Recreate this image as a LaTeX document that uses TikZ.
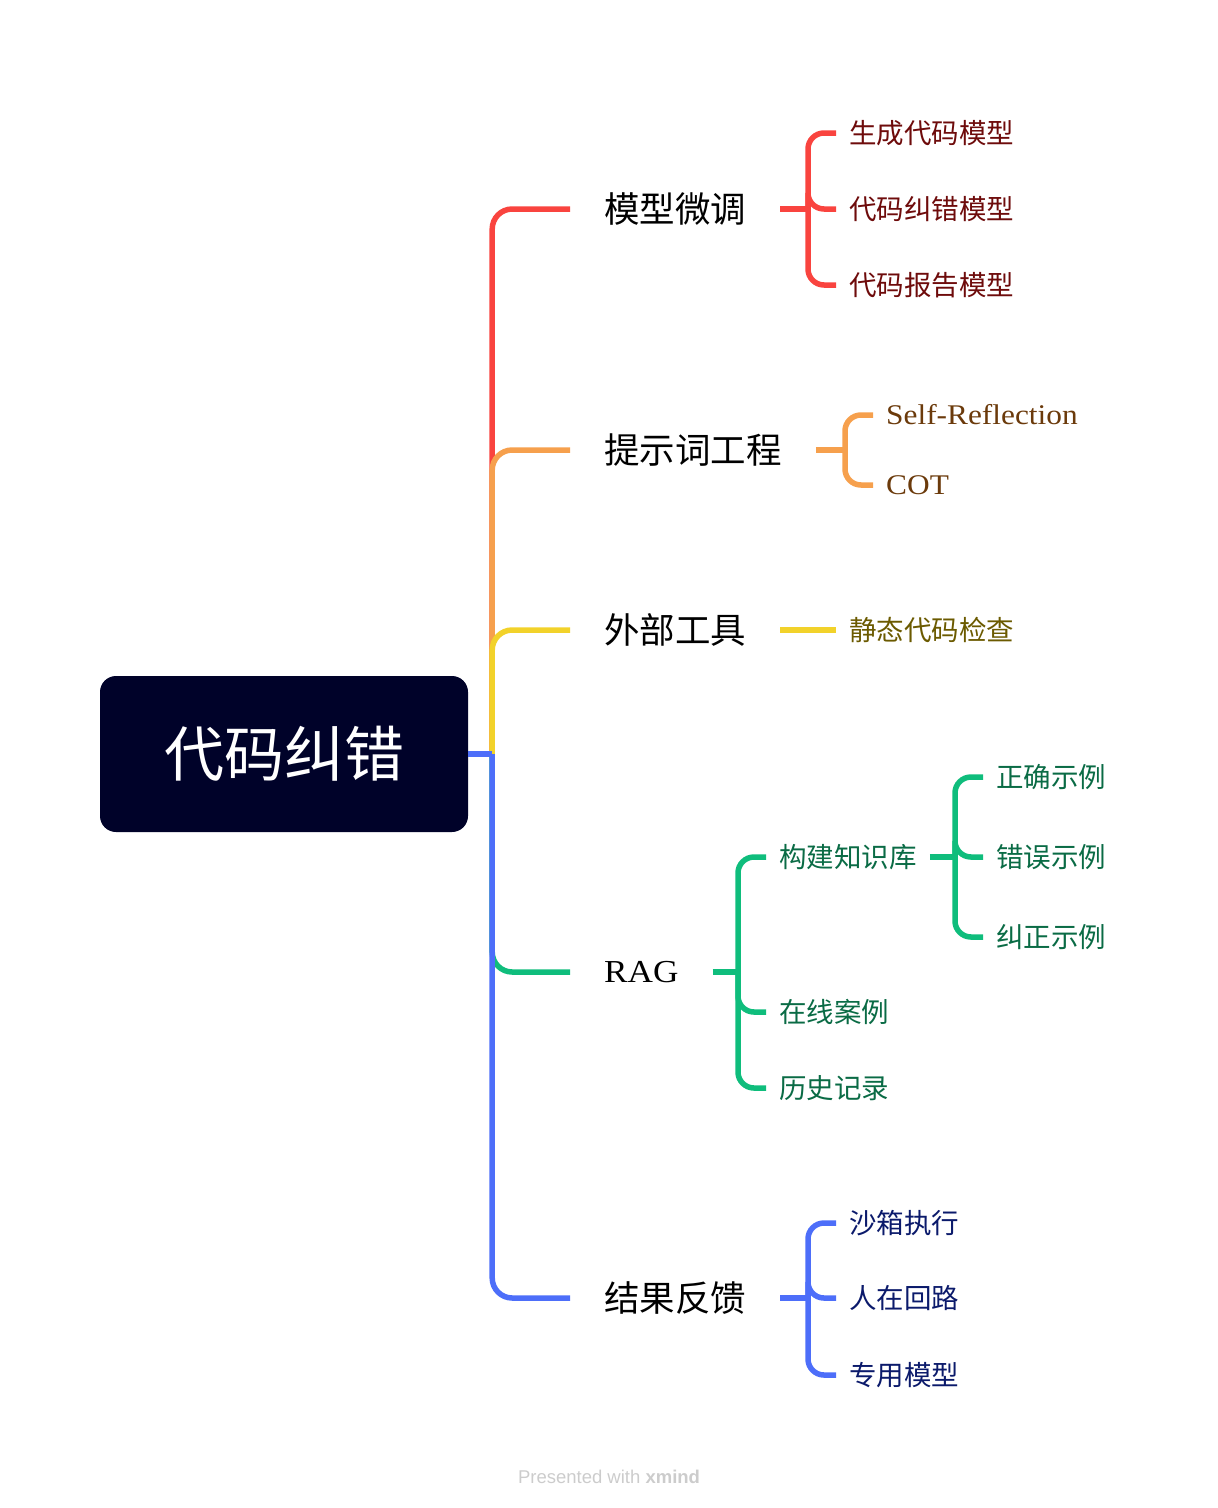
\documentclass[tikz,border=0pt]{standalone}
\usepackage{fontspec}
\newfontfamily\cjk{Noto Sans CJK SC}
\newfontfamily\serifx[FakeStretch=1.1]{Liberation Serif}
\newfontfamily\wmfont{Liberation Sans}
\definecolor{cred}{HTML}{F9443F}
\definecolor{corange}{HTML}{F6A04D}
\definecolor{cyellow}{HTML}{F2D22A}
\definecolor{cgreen}{HTML}{0FBD7C}
\definecolor{cblue}{HTML}{4D6EF9}
\definecolor{croot}{HTML}{000229}
\definecolor{tred}{HTML}{6E0B0B}
\definecolor{torange}{HTML}{6B3A0B}
\definecolor{tyellow}{HTML}{6B5A00}
\definecolor{tgreen}{HTML}{0A6B45}
\definecolor{tblue}{HTML}{0B1A6B}
\begin{document}
\begin{tikzpicture}[x=1pt,y=-1pt,
  rootbox/.style={fill=croot, rounded corners=16pt, minimum width=368pt, minimum height=156pt, text=white, font=\cjk\fontsize{60}{66}\selectfont},
  lvl1/.style={anchor=west, inner xsep=34pt, inner ysep=2pt, text=black, font=\cjk\fontsize{35.5}{40}\selectfont},
  lvl2/.style={anchor=west, inner xsep=13pt, inner ysep=2pt, font=\cjk\fontsize{27.5}{32}\selectfont},
  latin2/.style={font=\serifx\fontsize{28.5}{32}\selectfont},
  trunk/.style={line width=5.5pt, rounded corners=20pt},
  brk/.style={line width=5.5pt, rounded corners=16pt}]
\path[use as bounding box] (0,0) rectangle (1218,1508);

% root
\node[rootbox] (root) at (284,754) {代码纠错};
\coordinate (j) at ([xshift=24pt]root.east);

% level 1
\node[lvl1] (n1) at (570,209) {模型微调};
\node[lvl1] (n2) at (570,450) {提示词工程};
\node[lvl1] (n3) at (570,630) {外部工具};
\node[lvl1, font=\serifx\fontsize{32}{36}\selectfont] (n4) at (570,972) {RAG};
\node[lvl1] (n5) at (570,1298) {结果反馈};

\draw[trunk, cred] (j) |- (n1.west);
\draw[trunk, corange] (j) |- (n2.west);
\draw[trunk, cyellow] (j) |- (n3.west);
\draw[trunk, cgreen] (j) |- (n4.west);
\draw[trunk, cblue] (j) |- (n5.west);
\draw[cblue, line width=5.5pt] (root.east) -- (j);

% red children
\node[lvl2, text=tred] (c11) at (836,133) {生成代码模型};
\node[lvl2, text=tred] (c12) at (836,209) {代码纠错模型};
\node[lvl2, text=tred] (c13) at (836,285) {代码报告模型};
\coordinate (b1) at (808,209);
\draw[brk, cred] (n1.east) -- (b1);
\draw[brk, cred] (b1) |- (c11.west);
\draw[brk, cred] (b1) |- (c12.west);
\draw[brk, cred] (b1) |- (c13.west);

% orange children
\node[lvl2, latin2, text=torange] (c21) at (873,415) {Self-Reflection};
\node[lvl2, latin2, text=torange] (c22) at (873,485) {COT};
\coordinate (b2) at (845,450);
\draw[brk, corange] (n2.east) -- (b2);
\draw[brk, corange] (b2) |- (c21.west);
\draw[brk, corange] (b2) |- (c22.west);

% yellow child
\node[lvl2, text=tyellow] (c31) at (836,630) {静态代码检查};
\draw[brk, cyellow] (n3.east) -- (c31.west);

% green children
\node[lvl2, text=tgreen] (c41) at (766,857) {构建知识库};
\node[lvl2, text=tgreen] (c42) at (766,1012) {在线案例};
\node[lvl2, text=tgreen] (c43) at (766,1088) {历史记录};
\coordinate (b4) at (738,972);
\draw[brk, cgreen] (n4.east) -- (b4);
\draw[brk, cgreen] (b4) |- (c41.west);
\draw[brk, cgreen] (b4) |- (c42.west);
\draw[brk, cgreen] (b4) |- (c43.west);

\node[lvl2, text=tgreen] (c411) at (983,777) {正确示例};
\node[lvl2, text=tgreen] (c412) at (983,857) {错误示例};
\node[lvl2, text=tgreen] (c413) at (983,937) {纠正示例};
\coordinate (b41) at (955,857);
\draw[brk, cgreen] (c41.east) -- (b41);
\draw[brk, cgreen] (b41) |- (c411.west);
\draw[brk, cgreen] (b41) |- (c412.west);
\draw[brk, cgreen] (b41) |- (c413.west);

% blue children
\node[lvl2, text=tblue] (c51) at (836,1223) {沙箱执行};
\node[lvl2, text=tblue] (c52) at (836,1298) {人在回路};
\node[lvl2, text=tblue] (c53) at (836,1375) {专用模型};
\coordinate (b5) at (808,1298);
\draw[brk, cblue] (n5.east) -- (b5);
\draw[brk, cblue] (b5) |- (c51.west);
\draw[brk, cblue] (b5) |- (c52.west);
\draw[brk, cblue] (b5) |- (c53.west);

% watermark
\node[text=black!20, font=\wmfont\fontsize{18.5}{20}\selectfont] (wm) at (609,1477) {Presented with \textbf{xmind}};
\end{tikzpicture}
\end{document}
